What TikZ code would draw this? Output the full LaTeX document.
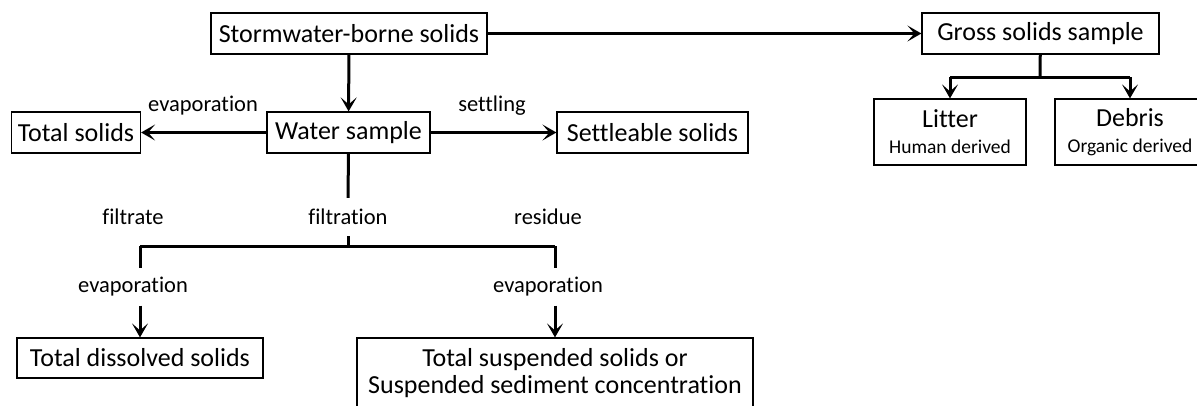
\documentclass[tikz,border=0pt]{standalone}
\usepackage{fontspec}
\setmainfont{Carlito}[RawFeature=-liga]
\usetikzlibrary{arrows.meta}

\begin{document}
\begin{tikzpicture}[x=1pt,y=-1pt,>={Stealth[length=14pt,width=16pt,inset=7pt]}]
\tikzstyle{every node}=[font=\fontsize{26}{27}\selectfont]
\tikzstyle{box}=[draw,line width=1.2pt,inner sep=0pt,minimum height=41pt,align=center]
\tikzstyle{lbl}=[font=\fontsize{22.5}{27}\selectfont,inner sep=0pt]
\tikzstyle{con}=[line width=3pt]
\useasboundingbox (0,0) rectangle (1197,405);
% boxes
\node[box,minimum width=276pt](storm) at (349,33.5){Stormwater-borne solids};
\node[box,minimum width=163pt](water) at (348.5,132.5){Water sample};
\node[box,minimum width=129pt](total) at (76,132.5){Total solids};
\node[box,minimum width=191pt](settle) at (652.5,132.5){Settleable solids};
\node[box,minimum width=237pt](gross) at (1040.5,33.5){Gross solids sample};
\node[box,minimum width=152pt,minimum height=66pt](litter) at (950,132){Litter\\[-1pt]{\fontsize{19.5}{22}\selectfont Human derived}};
\node[box,minimum width=150pt,minimum height=66pt](debris) at (1130,132){Debris\\[-1pt]{\fontsize{19.5}{22}\selectfont Organic derived}};
\node[box,minimum width=246pt,minimum height=40pt](tds) at (140,358){Total dissolved solids};
\node[box,minimum width=396pt,minimum height=70pt](tss) at (555,373){Total suspended solids or\\Suspended sediment concentration};
% labels
\node[lbl](evapT) at (203,106){evaporation};
\node[lbl](settling) at (492,106){settling};
\node[lbl](filtrate) at (133,217){filtrate};
\node[lbl,minimum height=38pt](filt) at (348,217){filtration};
\node[lbl](residue) at (548,217){residue};
\node[lbl,minimum height=37pt](evapL) at (133,287){evaporation};
\node[lbl,minimum height=37pt](evapR) at (548,287){evaporation};
\coordinate (fork) at (348,246);
\coordinate (forkL) at (140,246);
\coordinate (forkR) at (555,246);
\coordinate (split) at (1040,77);
\coordinate (splitL) at (950,77);
\coordinate (splitR) at (1130,77);
% connectors
\draw[con,->](storm)--(water);
\draw[con,->](storm)--(gross);
\draw[con,->](water)--(total);
\draw[con,->](water)--(settle);
\draw[con](water)--(filt);
\draw[con](filt)--(fork);
\draw[con](forkL)--(forkR);
\draw[con](forkL)--(forkL|-evapL.north);
\draw[con](forkR)--(forkR|-evapR.north);
\draw[con,->](forkL|-evapL.south)--(tds);
\draw[con,->](forkR|-evapR.south)--(tss);
\draw[con](gross)--(split);
\draw[con](splitL)--(splitR);
\draw[con,->](splitL)--(litter);
\draw[con,->](splitR)--(debris);
\end{tikzpicture}
\end{document}
